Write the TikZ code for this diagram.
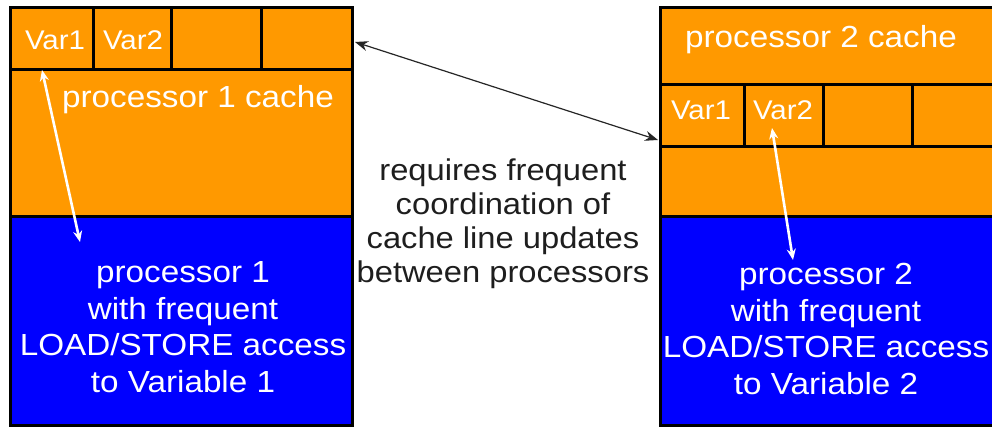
\documentclass[tikz,border=0pt]{standalone}
\usepackage{fontspec}
\setmainfont[FakeStretch=1.09]{Liberation Sans}
\usetikzlibrary{arrows.meta}
\definecolor{cacheorange}{RGB}{255,153,0}
\definecolor{procblue}{RGB}{0,0,255}
\definecolor{textgray}{RGB}{30,30,30}
\tikzset{
  rect/.style={anchor=north west, inner sep=0pt, outer sep=0pt, draw=black, line width=3pt},
  cachebox/.style={rect, fill=cacheorange},
  procbox/.style={rect, fill=procblue},
  frame/.style={rect, fill=none},
  wlabel/.style={text=white, font=\fontsize{30.5}{36}\selectfont, inner sep=0pt},
  vlabel/.style={text=white, font=\fontsize{27}{32}\selectfont, inner sep=0pt},
  proclabel/.style={text=white, align=center, font=\fontsize{30.5}{36.5}\selectfont, inner sep=0pt},
  midlabel/.style={text=textgray, align=center, font=\fontsize{30}{34}\selectfont, inner sep=0pt},
  warrow/.style={draw=white, line width=2.6pt, {Stealth[length=11pt,width=9pt]}-{Stealth[length=11pt,width=9pt]}},
  barrow/.style={draw=black!85, line width=1.2pt, {Stealth[length=13pt,width=10pt]}-{Stealth[length=13pt,width=10pt]}}
}
\begin{document}
\begin{tikzpicture}[x=1pt,y=-1pt]
\useasboundingbox[fill=white] (0,0) rectangle (992,427);
% ---- left processor ----
\node[procbox, minimum width=342pt, minimum height=208pt] (LP) at (10,217) {};
\node[cachebox, minimum width=342pt, minimum height=209pt] (LC) at (10,8) {};
\node[cachebox, minimum width=83pt, minimum height=62pt] (LV1) at (10,8) {};
\node[cachebox, minimum width=78pt, minimum height=62pt] (LV2) at (93,8) {};
\node[cachebox, minimum width=90pt, minimum height=62pt] (LV3) at (171,8) {};
\node[cachebox, minimum width=91pt, minimum height=62pt] (LV4) at (261,8) {};
\node[frame, minimum width=342pt, minimum height=417pt] (LF) at (10,8) {};
\node[vlabel] (LT1) at (55,40) {Var1};
\node[vlabel] (LT2) at (133,40) {Var2};
\node[wlabel] (LCT) at (198,100) {processor 1 cache};
\node[proclabel] (LPT) at (183,327) {processor 1\\with frequent\\LOAD/STORE access\\to Variable 1};
% ---- right processor ----
\node[procbox, minimum width=350pt, minimum height=208pt] (RP) at (660,217) {};
\node[cachebox, minimum width=350pt, minimum height=209pt] (RC) at (660,8) {};
\node[cachebox, minimum width=84pt, minimum height=62pt] (RV1) at (660,85) {};
\node[cachebox, minimum width=79pt, minimum height=62pt] (RV2) at (744,85) {};
\node[cachebox, minimum width=89pt, minimum height=62pt] (RV3) at (823,85) {};
\node[cachebox, minimum width=98pt, minimum height=62pt] (RV4) at (912,85) {};
\node[frame, minimum width=350pt, minimum height=417pt] (RF) at (660,8) {};
\node[wlabel] (RCT) at (821,40) {processor 2 cache};
\node[vlabel] (RT1) at (701,110) {Var1};
\node[vlabel] (RT2) at (783,110) {Var2};
\node[proclabel] (RPT) at (826,329) {processor 2\\with frequent\\LOAD/STORE access\\to Variable 2};
% ---- middle ----
\node[midlabel] (MT) at (503,224) {requires frequent\\coordination of\\cache line updates\\between processors};
% ---- connectors ----
\coordinate (la) at (42,70);
\coordinate (lb) at (80,242);
\coordinate (ra) at (772,128);
\coordinate (rb) at (793,260);
\coordinate (ma) at (355,42);
\coordinate (mb) at (658,140);
\draw[warrow] (la) -- (lb);
\draw[warrow] (ra) -- (rb);
\draw[barrow] (ma) -- (mb);
\end{tikzpicture}
\end{document}
